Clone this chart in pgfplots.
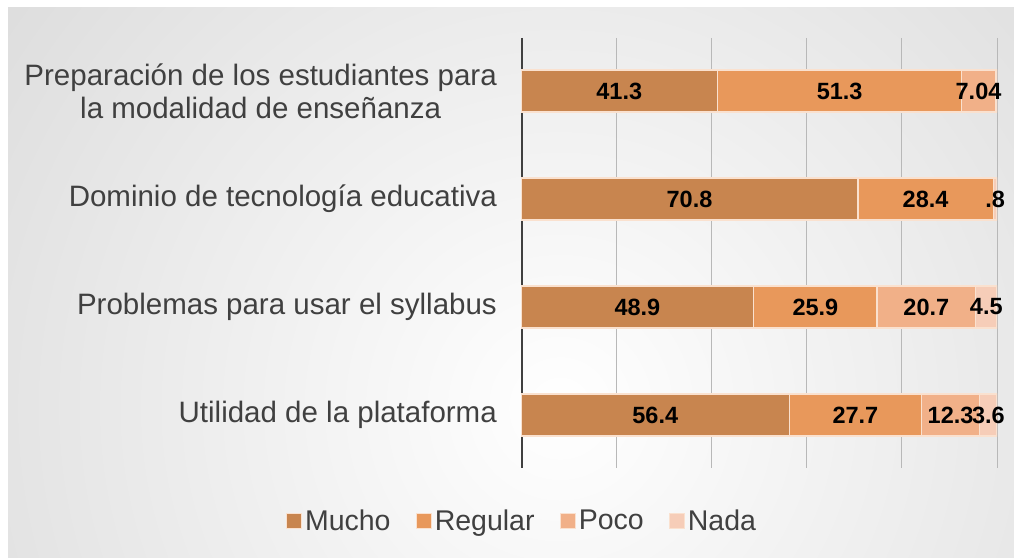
\documentclass[border=0pt]{standalone}
\usepackage{fontspec}
\setmainfont{Liberation Sans}
\usepackage{pgfplots}
\pgfplotsset{compat=1.18}

\definecolor{mucho}{HTML}{C8854F}
\definecolor{regular}{HTML}{E8985B}
\definecolor{poco}{HTML}{F1B088}
\definecolor{nada}{HTML}{F6CDB8}
\definecolor{txt}{HTML}{404040}
\definecolor{edge}{HTML}{FAE1CF}

\begin{document}
\begin{tikzpicture}[x=1bp,y=1bp]
% background with radial gradient
\fill[white] (0,0) rectangle (1014,558);
\begin{scope}
  \clip (8,0) rectangle (1014,550);
  \shade[inner color=white, outer color=black!23] (560,150) circle (1200);
\end{scope}

\begin{axis}[
    at={(521bp,90bp)}, anchor=south west,
    scale only axis, width=476bp, height=430bp,
    xbar stacked, bar width=42bp,
    xmin=0, xmax=100,
    ymin=-0.49, ymax=3.49, y dir=reverse,
    ytick={0,1,2,3},
    yticklabels={{Preparación de los estudiantes para\\la modalidad de enseñanza},
                 {Dominio de tecnología educativa},
                 {Problemas para usar el syllabus},
                 {Utilidad de la plataforma}},
    yticklabel style={align=center, font=\fontsize{29.5bp}{33bp}\selectfont,
                      text=txt, inner sep=0pt, xshift=-24bp},
    xtick={20,40,60,80,100}, xticklabels={},
    xmajorgrids, grid style={draw=black!28, line width=1bp},
    major tick length=0pt,
    axis line style={draw=none},
    every axis plot/.append style={draw=edge, line width=1.2bp},
    nodes near coords,
    point meta=explicit symbolic,
    every node near coord/.append style={
        font=\bfseries\fontsize{23.5bp}{23.5bp}\selectfont, text=black,
        anchor=center},
    legend columns=4,
    legend style={at={(0.003,-0.123)}, anchor=center, draw=none, fill=none,
        font=\fontsize{28.5bp}{28.5bp}\selectfont\color{txt},
        nodes={inner xsep=3bp},
        /tikz/every even column/.append style={column sep=22bp}},
    legend image code/.code={\draw[#1] (0bp,-7.5bp) rectangle (15bp,7.5bp);},
]
\addplot[fill=mucho] coordinates {
    (41.3,0) [41.3] (70.8,1) [70.8] (48.9,2) [48.9] (56.4,3) [56.4]};
\addplot[fill=regular] coordinates {
    (51.3,0) [51.3] (28.4,1) [28.4] (25.9,2) [25.9] (27.7,3) [27.7]};
\addplot[fill=poco] coordinates {
    (7.04,0) [7.04] (0,1) [{}] (20.7,2) [20.7] (12.3,3) [12.3]};
\addplot[fill=nada] coordinates {
    (0.36,0) [{}] (0.8,1) [.8] (4.5,2) [4.5] (3.6,3) [3.6]};
\legend{Mucho,Regular,Poco,Nada}
\draw[txt, line width=3bp] (axis cs:0,-0.49) -- (axis cs:0,3.49);
\end{axis}
\end{tikzpicture}
\end{document}
